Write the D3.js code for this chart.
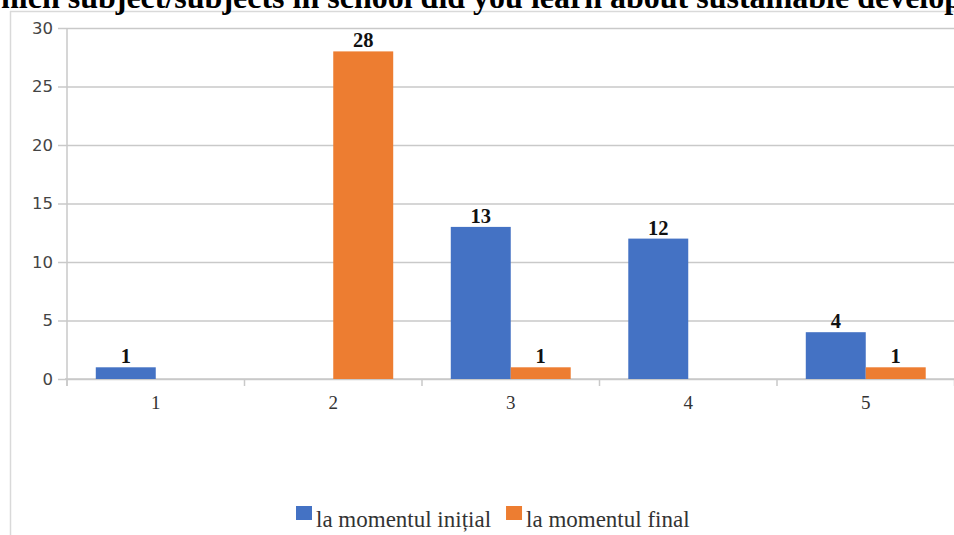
<!DOCTYPE html>
<html>
<head>
<meta charset="utf-8">
<script src="https://cdn.jsdelivr.net/npm/d3@7"></script>
<style>
  html, body { margin: 0; padding: 0; background: #fff; overflow: hidden; }
  svg { display: block; }
</style>
</head>
<body>
<svg id="chart" width="954" height="535"></svg>
<script>
// Answer options (categories) and the two survey moments
const categories = ["1", "2", "3", "4", "5"];
const seriesNames = ["la momentul inițial", "la momentul final"];
const initialValues = [1, 0, 13, 12, 4];
const finalValues = [0, 28, 1, 0, 1];
const yTicks = [0, 5, 10, 15, 20, 25, 30];
const seriesColors = ["#4472C4", "#ED7D31"];
const titleText = "Which subject/subjects in school did you learn about sustainable development?";

(function () {
const svg = d3.select("#chart");
const W = 954, H = 535;
const plotLeft = 67, plotRight = 954.5, plotTop = 28, plotBottom = 379;
const serif = "'Liberation Serif', 'Times New Roman', serif";

const x = d3.scaleBand().domain(categories).range([plotLeft, plotRight]).paddingInner(0).paddingOuter(0);
const xs = d3.scaleBand().domain(seriesNames).range([0, x.bandwidth()]).paddingInner(0).paddingOuter(0.48);
const y = d3.scaleLinear().domain([0, 30]).range([plotBottom, plotTop]);

// outer frame
svg.append("line").attr("x1", 10.5).attr("x2", 10.5).attr("y1", 11).attr("y2", H)
  .attr("stroke", "#d9d9d9").attr("stroke-width", 1.5);
svg.append("line").attr("x1", 10).attr("x2", W).attr("y1", 11.5).attr("y2", 11.5)
  .attr("stroke", "#d9d9d9").attr("stroke-width", 1.5);

// title: wider than the page, so it runs off both edges
const titleSize = 32;
const title = svg.append("text")
  .attr("font-family", serif)
  .attr("font-weight", "bold")
  .attr("font-size", titleSize)
  .attr("fill", "#000")
  .attr("y", 8)
  .text(titleText);
const probe = svg.append("text")
  .attr("font-family", serif)
  .attr("font-weight", "bold").attr("font-size", titleSize).text("W");
const wW = probe.node().getComputedTextLength();
probe.remove();
title.attr("x", -wW + 1);

// horizontal gridlines + y ticks
const yAxis = d3.axisLeft(y).tickValues(yTicks).tickSize(-(W - plotLeft)).tickPadding(6).tickSizeOuter(0);
const gy = svg.append("g").attr("transform", `translate(${plotLeft},0)`).call(yAxis);
gy.select(".domain").remove();
gy.selectAll(".tick line").attr("stroke", "#c9c9c9").attr("stroke-width", 1.5).attr("x1", -9);
gy.selectAll(".tick text")
  .attr("x", -14)
  .attr("font-family", "'DejaVu Sans', sans-serif")
  .attr("font-size", 16.5)
  .attr("fill", "#444");

// vertical axis line
svg.append("line").attr("x1", plotLeft).attr("x2", plotLeft).attr("y1", y(30)).attr("y2", plotBottom + 7)
  .attr("stroke", "#c9c9c9").attr("stroke-width", 1.5);

// x axis: ticks at band boundaries, labels at band centres
const boundaries = categories.map(c => x(c)).concat([x(categories[categories.length - 1]) + x.bandwidth()]);
svg.append("line").attr("x1", plotLeft - 2).attr("x2", W).attr("y1", plotBottom).attr("y2", plotBottom)
  .attr("stroke", "#c9c9c9").attr("stroke-width", 1.5);
svg.selectAll(".xtick").data(boundaries).enter().append("line")
  .attr("class", "xtick")
  .attr("x1", d => d).attr("x2", d => d)
  .attr("y1", plotBottom).attr("y2", plotBottom + 7)
  .attr("stroke", "#c9c9c9").attr("stroke-width", 1.5);
svg.selectAll(".xlabel").data(categories).enter().append("text")
  .attr("class", "xlabel")
  .attr("x", d => x(d) + x.bandwidth() / 2)
  .attr("y", 409)
  .attr("text-anchor", "middle")
  .attr("font-family", serif)
  .attr("font-size", 19)
  .attr("fill", "#333")
  .text(d => d);

// bars
const rows = categories.map((c, i) => ({
  cat: c,
  vals: [
    { s: seriesNames[0], v: initialValues[i], color: seriesColors[0] },
    { s: seriesNames[1], v: finalValues[i], color: seriesColors[1] }
  ]
}));
const groups = svg.selectAll(".grp").data(rows).enter().append("g")
  .attr("class", "grp")
  .attr("transform", d => `translate(${x(d.cat)},0)`);
groups.selectAll("rect").data(d => d.vals.filter(v => v.v > 0)).enter().append("rect")
  .attr("x", d => xs(d.s))
  .attr("y", d => y(d.v))
  .attr("width", xs.bandwidth())
  .attr("height", d => y(0) - y(d.v))
  .attr("fill", d => d.color);
groups.selectAll(".val").data(d => d.vals.filter(v => v.v > 0)).enter().append("text")
  .attr("class", "val")
  .attr("x", d => xs(d.s) + xs.bandwidth() / 2)
  .attr("y", d => y(d.v) - 4)
  .attr("text-anchor", "middle")
  .attr("font-family", serif)
  .attr("font-weight", "bold")
  .attr("font-size", 20.5)
  .attr("fill", "#111")
  .text(d => d.v);

// legend
const legend = svg.append("g").attr("transform", "translate(296,0)");
let lx = 0;
seriesNames.forEach((name, i) => {
  legend.append("rect").attr("x", lx).attr("y", 506).attr("width", 16).attr("height", 14)
    .attr("fill", seriesColors[i]);
  const t = legend.append("text")
    .attr("x", lx + 20).attr("y", 527)
    .attr("font-family", serif)
    .attr("font-size", 23)
    .attr("fill", "#333")
    .text(name);
  lx += 20 + t.node().getComputedTextLength() + 15;
});
})();
</script>
</body>
</html>
